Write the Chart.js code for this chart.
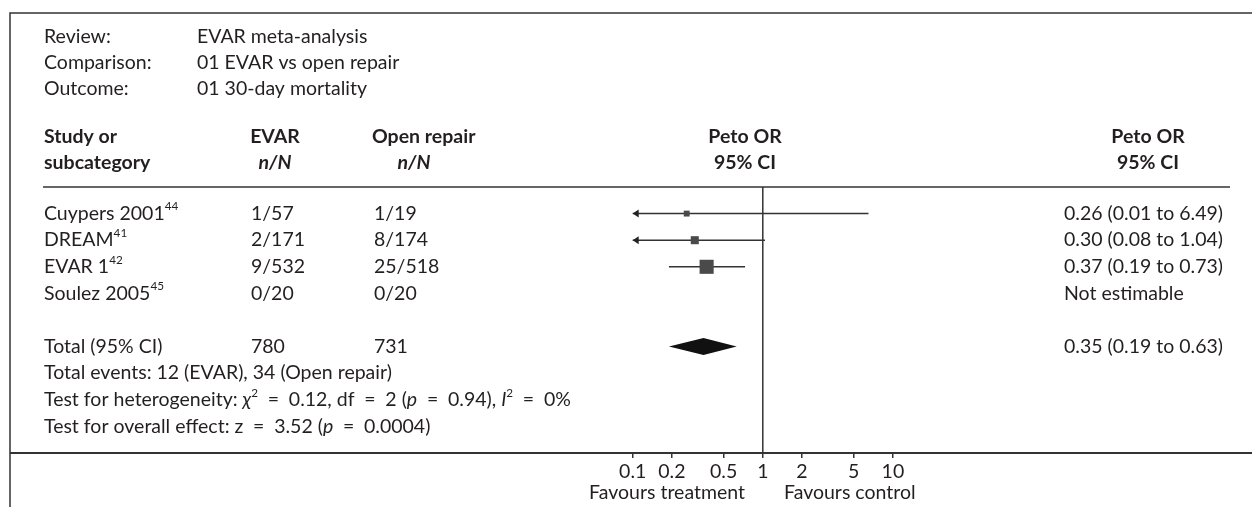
<!DOCTYPE html>
<html>
<head>
<meta charset="utf-8">
<script src="https://cdn.jsdelivr.net/npm/chart.js@4.4.1/dist/chart.umd.min.js"></script>
<style>
  html, body { margin: 0; padding: 0; background: #fff; }
  #wrap { width: 1252px; height: 507px; position: relative; }
</style>
</head>
<body>
<div id="wrap"><canvas id="chart" width="1252" height="507"></canvas></div>
<script>
'use strict';

// study rows
const studies = ['Cuypers 2001', 'DREAM', 'EVAR 1', 'Soulez 2005'];
const studyRefs = ['44', '41', '42', '45'];
const evarCounts = ['1/57', '2/171', '9/532', '0/20'];
const openCounts = ['1/19', '8/174', '25/518', '0/20'];
const petoOR = [0.26, 0.30, 0.37, null];
const ciLow = [0.01, 0.08, 0.19, null];
const ciHigh = [6.49, 1.04, 0.73, null];
const weights = [3.4, 22.1, 74.6, 0];   // % weight, sets square size

// pooled result
const totalEvar = 780;
const totalOpen = 731;
const pooledOR = 0.35;
const pooledLow = 0.19;
const pooledHigh = 0.63;

// x axis
const tickValues = [0.1, 0.2, 0.5, 1, 2, 5, 10];
const axisMin = 0.1;
const axisMax = 10;

const FONT = 'Lato, "DejaVu Sans", sans-serif';
const INK = '#231f20';
const FS = 19.5;
const EQ = '\u2002=\u2002';   // wide spacing round "=" like the typeset original
const rowY = [1, 2, 3, 4];
const totalY = 6;

Chart.defaults.font.family = FONT;
Chart.defaults.color = INK;

function fmt(v) { return v.toFixed(2); }

function sideFromWeight(w) { return 5.5 + 0.115 * w; }

let squareData = [];
let squareRadius = [];
for (let i = 0; i < studies.length; i++) {
    if (petoOR[i] === null) continue;
    squareData.push({ x: petoOR[i], y: rowY[i] });
    squareRadius.push(sideFromWeight(weights[i]) / Math.SQRT2);
}

let datasets = [
    {
        type: 'scatter',
        data: squareData,
        pointStyle: 'rect',
        pointRadius: squareRadius,
        backgroundColor: '#4a4a4a',
        borderWidth: 0,
        clip: false
    }
];

for (let i = 0; i < studies.length; i++) {
    if (petoOR[i] === null) continue;
    datasets.push({
        type: 'line',
        data: [
            { x: Math.max(ciLow[i], axisMin), y: rowY[i] },
            { x: Math.min(ciHigh[i], axisMax), y: rowY[i] }
        ],
        borderColor: '#333',
        borderWidth: 1.5,
        pointRadius: 0,
        clip: false
    });
}

// line of no effect
datasets.push({
    type: 'line',
    data: [{ x: 1, y: 0 }, { x: 1, y: 10 }],
    borderColor: '#333',
    borderWidth: 1.5,
    pointRadius: 0,
    clip: false
});

function drawRich(ctx, x, y, segs, size) {
    for (const s of segs) {
        let fs = s.sup ? size * 0.6 : size;
        ctx.font = (s.italic ? 'italic ' : '') + (s.bold ? 'bold ' : '') + fs + 'px ' + FONT;
        ctx.textAlign = 'left';
        ctx.fillText(s.t, x, s.sup ? y - size * 0.36 : y);
        x += ctx.measureText(s.t).width;
    }
    return x;
}

const forestPlugin = {
    id: 'forest',
    afterDatasetsDraw(chart) {
        const ctx = chart.ctx;
        const xs = chart.scales.x;
        const ys = chart.scales.y;
        ctx.save();

        // arrows for clipped intervals
        ctx.fillStyle = '#222';
        for (let i = 0; i < studies.length; i++) {
            if (petoOR[i] === null) continue;
            const py = ys.getPixelForValue(rowY[i]);
            if (ciLow[i] < axisMin) {
                const px = xs.getPixelForValue(axisMin);
                ctx.beginPath();
                ctx.moveTo(px, py);
                ctx.lineTo(px + 6, py - 4);
                ctx.lineTo(px + 6, py + 4);
                ctx.closePath();
                ctx.fill();
            }
            if (ciHigh[i] > axisMax) {
                const px = xs.getPixelForValue(axisMax);
                ctx.beginPath();
                ctx.moveTo(px, py);
                ctx.lineTo(px - 6, py - 4);
                ctx.lineTo(px - 6, py + 4);
                ctx.closePath();
                ctx.fill();
            }
        }

        // pooled diamond
        const dy = ys.getPixelForValue(totalY);
        ctx.fillStyle = '#111';
        ctx.beginPath();
        ctx.moveTo(xs.getPixelForValue(pooledLow), dy);
        ctx.lineTo(xs.getPixelForValue(pooledOR), dy - 8.5);
        ctx.lineTo(xs.getPixelForValue(pooledHigh), dy);
        ctx.lineTo(xs.getPixelForValue(pooledOR), dy + 8.5);
        ctx.closePath();
        ctx.fill();

        ctx.restore();
    },
    afterDraw(chart) {
        const ctx = chart.ctx;
        const ys = chart.scales.y;
        ctx.save();

        // frame
        ctx.strokeStyle = '#333';
        ctx.lineWidth = 1.5;
        ctx.beginPath();
        ctx.moveTo(10, 507);
        ctx.lineTo(10, 13);
        ctx.lineTo(1252, 13);
        ctx.stroke();
        ctx.beginPath();
        ctx.moveTo(43, 187);
        ctx.lineTo(1230, 187);
        ctx.stroke();
        ctx.lineWidth = 2;
        ctx.beginPath();
        ctx.moveTo(10, 453);
        ctx.lineTo(1252, 453);
        ctx.stroke();

        ctx.fillStyle = INK;
        ctx.textBaseline = 'middle';
        const norm = FS + 'px ' + FONT;
        const bold = 'bold ' + FS + 'px ' + FONT;
        const boldIt = 'italic bold ' + FS + 'px ' + FONT;

        function txt(t, x, y, font, align) {
            ctx.font = font;
            ctx.textAlign = align || 'left';
            ctx.fillText(t, x, y);
        }

        const colEvar = 251;
        const colOpen = 374;
        const colRes = 1064;

        // top info
        txt('Review:', 44, 37, norm);
        txt('EVAR meta-analysis', 197, 37, norm);
        txt('Comparison:', 44, 63, norm);
        txt('01 EVAR vs open repair', 197, 63, norm);
        txt('Outcome:', 44, 89, norm);
        txt('01 30-day mortality', 197, 89, norm);

        // column headers
        txt('Study or', 44, 137, bold);
        txt('subcategory', 44, 163, bold);
        txt('EVAR', colEvar + 24, 137, bold, 'center');
        txt('n/N', colEvar + 24, 163, boldIt, 'center');
        txt('Open repair', colOpen - 2, 137, bold, 'left');
        txt('n/N', colOpen + 40, 163, boldIt, 'center');
        txt('Peto OR', 745, 137, bold, 'center');
        txt('95% CI', 745, 163, bold, 'center');
        txt('Peto OR', 1148, 137, bold, 'center');
        txt('95% CI', 1148, 163, bold, 'center');

        // study rows
        for (let i = 0; i < studies.length; i++) {
            const y = ys.getPixelForValue(rowY[i]);
            drawRich(ctx, 44, y, [{ t: studies[i] }, { t: studyRefs[i], sup: true }], FS);
            txt(evarCounts[i], colEvar, y, norm);
            txt(openCounts[i], colOpen, y, norm);
            const res = petoOR[i] === null ? 'Not estimable'
                : fmt(petoOR[i]) + ' (' + fmt(ciLow[i]) + ' to ' + fmt(ciHigh[i]) + ')';
            txt(res, colRes, y, norm);
        }

        // totals
        const ty = ys.getPixelForValue(totalY);
        txt('Total (95% CI)', 44, ty, norm);
        txt(String(totalEvar), colEvar, ty, norm);
        txt(String(totalOpen), colOpen, ty, norm);
        txt(fmt(pooledOR) + ' (' + fmt(pooledLow) + ' to ' + fmt(pooledHigh) + ')', colRes, ty, norm);

        txt('Total events: 12 (EVAR), 34 (Open repair)', 44, ys.getPixelForValue(7), norm);
        drawRich(ctx, 44, ys.getPixelForValue(8), [
            { t: 'Test for heterogeneity: ' }, { t: '\u03c7', italic: true }, { t: '2', sup: true },
            { t: EQ + '0.12, df' + EQ + '2 (' }, { t: 'p', italic: true }, { t: EQ + '0.94), ' },
            { t: 'I', italic: true }, { t: '2', sup: true }, { t: EQ + '0%' }
        ], FS);
        drawRich(ctx, 44, ys.getPixelForValue(9), [
            { t: 'Test for overall effect: z' + EQ + '3.52 (' }, { t: 'p', italic: true }, { t: EQ + '0.0004)' }
        ], FS);

        // axis captions
        txt('Favours treatment', 745, 493, norm, 'right');
        txt('Favours control', 784, 493, norm, 'left');

        ctx.restore();
    }
};

new Chart(document.getElementById('chart'), {
    type: 'scatter',
    data: { datasets: datasets },
    options: {
        responsive: false,
        animation: false,
        layout: { padding: { left: 632.7, right: 359.1, top: 187, bottom: 0 } },
        plugins: { legend: { display: false }, tooltip: { enabled: false } },
        scales: {
            x: {
                type: 'logarithmic',
                min: axisMin,
                max: axisMax,
                position: 'bottom',
                afterBuildTicks: (scale) => { scale.ticks = tickValues.map(v => ({ value: v })); },
                afterFit: (scale) => { scale.height = 54; },
                ticks: {
                    callback: (v) => String(v),
                    font: { size: FS },
                    color: INK,
                    padding: 2,
                    autoSkip: false,
                    maxRotation: 0
                },
                grid: { drawOnChartArea: false, drawTicks: true, tickLength: 5, color: '#333', lineWidth: 1.5 },
                border: { display: true, color: '#333', width: 2 }
            },
            y: {
                type: 'linear',
                min: 0,
                max: 10,
                reverse: true,
                display: false
            }
        }
    },
    plugins: [forestPlugin]
});
</script>
</body>
</html>
